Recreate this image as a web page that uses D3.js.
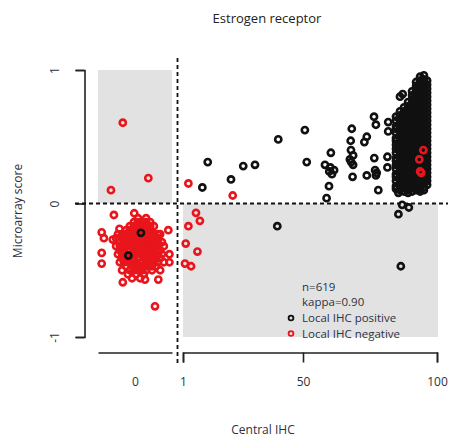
<!DOCTYPE html>
<html>
<head>
<meta charset="utf-8">
<script src="https://cdn.jsdelivr.net/npm/d3@7"></script>
<style>
  body { margin: 0; background: #fff; }
  text { font-family: "Open Sans", "Noto Sans", sans-serif; }
</style>
</head>
<body>
<svg id="chart" width="450" height="440"></svg>
<script>
// ---- Labels ----
const chartTitle = "Estrogen receptor";
const xTitle = "Central IHC";
const yTitle = "Microarray score";
const xTickValues = [1, 50, 100];
const zeroTickLabel = "0";
const yTickValues = [-1, 0, 1];
const statLines = ["n=619", "kappa=0.90"];
const legendLabels = ["Local IHC positive", "Local IHC negative"];

// ---- Data: [central IHC %, microarray score] ----
// Local IHC positive, scattered cases
const posScatter = [
  [8.9,0.12],[11.1,0.31],[20.6,0.18],[25.6,0.28],[30.4,0.29],[39.9,0.48],[39.5,-0.17],
  [50.7,0.55],[51.4,0.31],[58.2,0.29],[60.4,0.38],[59.8,0.24],[60.8,0.22],[61.6,0.25],
  [60.2,0.27],[59.7,0.13],[58.8,0.04],
  [68.2,0.56],[67.8,0.47],[67.9,0.40],[68.7,0.36],[67.5,0.33],[68.7,0.29],[68.0,0.31],[68.5,0.20],
  [72.9,0.46],[73.8,0.50],[73.8,0.21],
  [76.5,0.65],[77.2,0.59],[76.6,0.34],[76.9,0.25],[77.5,0.23],[77.2,0.21],[78.1,0.10],
  [81.8,0.61],[81.8,0.54],[81.5,0.35],[81.5,0.27],
  [85.6,0.08],[86.2,0.80],[87.2,0.82],[85.6,-0.08],[87.0,-0.01],[89.5,-0.03],[86.5,-0.47]
];
// Local IHC positive, high central IHC (dense band)
const denseCentral = [84.7, 86.2, 87.7, 89.2, 90.7, 92.2, 93.7, 95.1, 96.3];
const denseScores = [
  [0.65,0.62,0.58,0.56,0.53,0.49,0.47,0.44,0.41,0.38,0.34,0.32,0.29,0.26,0.22,0.20,0.17,0.13,0.11],
  [0.69,0.66,0.63,0.60,0.57,0.54,0.51,0.48,0.45,0.42,0.39,0.36,0.33,0.30,0.27,0.24,0.21,0.18,0.15,0.12,0.10],
  [0.72,0.69,0.66,0.63,0.60,0.57,0.54,0.51,0.48,0.45,0.42,0.39,0.36,0.33,0.30,0.27,0.24,0.21,0.18,0.15,0.12,0.09],
  [0.76,0.73,0.70,0.67,0.64,0.61,0.58,0.55,0.52,0.49,0.46,0.43,0.40,0.37,0.34,0.31,0.28,0.25,0.22,0.19,0.16,0.13,0.10,0.08],
  [0.84,0.81,0.78,0.75,0.72,0.69,0.66,0.63,0.60,0.57,0.54,0.51,0.48,0.45,0.42,0.39,0.36,0.33,0.30,0.27,0.24,0.21,0.18,0.15,0.12,0.09],
  [0.91,0.88,0.85,0.82,0.79,0.76,0.73,0.70,0.67,0.64,0.61,0.58,0.55,0.52,0.49,0.46,0.43,0.40,0.37,0.34,0.31,0.28,0.25,0.22,0.19,0.16,0.13,0.10],
  [0.95,0.92,0.89,0.86,0.83,0.80,0.77,0.74,0.71,0.68,0.65,0.62,0.59,0.56,0.53,0.50,0.47,0.44,0.41,0.38,0.35,0.32,0.29,0.26,0.23,0.20,0.17,0.14,0.11,0.09],
  [0.96,0.93,0.90,0.87,0.84,0.81,0.78,0.75,0.72,0.69,0.66,0.63,0.60,0.57,0.54,0.51,0.48,0.45,0.42,0.39,0.36,0.33,0.30,0.27,0.24,0.21,0.18,0.15,0.12,0.10],
  [0.92,0.89,0.86,0.83,0.80,0.77,0.74,0.71,0.68,0.65,0.62,0.59,0.56,0.53,0.50,0.47,0.44,0.41,0.38,0.35,0.32,0.29,0.26,0.23,0.20,0.17,0.14]
];
// Local IHC negative with central IHC >= 1
const negScatter = [
  [3.2,0.15],[21.3,0.06],[6.3,-0.07],[3.2,-0.17],[7.9,-0.13],[2.1,-0.30],[6.9,-0.36],
  [1.8,-0.45],[4.3,-0.47],[94.9,0.40],[93.4,0.33],[93.7,0.24],[94.1,0.23]
];

// Central IHC = 0: [horizontal jitter, microarray score]
const zeroNeg = [
  [-0.33,0.605],[0.36,0.19],[-0.65,0.10],[-0.57,-0.086],[-0.02,-0.073],[-0.90,-0.216],
  [-0.42,-0.19],[-0.84,-0.26],[-0.60,-0.27],[0.90,-0.20],[-0.90,-0.37],[-0.90,-0.45],
  [0.93,-0.38],[0.93,-0.44],[-0.33,-0.59],[0.27,-0.57],[0.63,-0.57],[0.54,-0.77],
  [0.08,-0.11],[0.30,-0.11],
  [-0.03,-0.14],[0.19,-0.14],[0.41,-0.14],
  [-0.14,-0.17],[0.08,-0.17],[0.30,-0.17],[0.51,-0.17],
  [-0.24,-0.20],[-0.03,-0.20],[0.19,-0.20],[0.41,-0.20],
  [-0.46,-0.23],[-0.35,-0.23],[-0.14,-0.23],[0.08,-0.23],[0.30,-0.23],[0.51,-0.23],[0.68,-0.23],
  [-0.51,-0.26],[-0.24,-0.26],[-0.03,-0.26],[0.19,-0.26],[0.41,-0.26],[0.62,-0.26],
  [-0.41,-0.29],[-0.14,-0.29],[0.08,-0.29],[0.30,-0.29],[0.51,-0.29],[0.73,-0.29],
  [-0.51,-0.32],[-0.30,-0.32],[-0.03,-0.32],[0.19,-0.32],[0.41,-0.32],[0.62,-0.32],[0.78,-0.32],
  [-0.41,-0.35],[-0.19,-0.35],[0.08,-0.35],[0.30,-0.35],[0.51,-0.35],[0.68,-0.35],
  [-0.46,-0.38],[-0.24,-0.38],[-0.08,-0.38],[0.14,-0.38],[0.35,-0.38],[0.57,-0.38],[0.73,-0.38],
  [-0.35,-0.41],[-0.14,-0.41],[0.08,-0.41],[0.24,-0.41],[0.46,-0.41],[0.68,-0.41],
  [-0.41,-0.44],[-0.19,-0.44],[0.03,-0.44],[0.19,-0.44],[0.41,-0.44],[0.62,-0.44],[0.78,-0.44],
  [-0.24,-0.47],[-0.08,-0.47],[0.14,-0.47],[0.35,-0.47],[0.57,-0.47],
  [-0.35,-0.50],[-0.14,-0.50],[0.08,-0.50],[0.30,-0.50],[0.46,-0.50],[0.68,-0.50],
  [-0.19,-0.53],[0.03,-0.53],[0.24,-0.53],
  [-0.08,-0.56],[0.14,-0.56],
  // core of the cluster
  [0.08,-0.14],[0.30,-0.14],
  [-0.03,-0.17],[0.19,-0.17],[0.41,-0.17],
  [-0.14,-0.20],[0.08,-0.20],[0.30,-0.20],
  [-0.24,-0.23],[-0.03,-0.23],[0.19,-0.23],[0.41,-0.23],[0.62,-0.23],
  [-0.35,-0.26],[-0.14,-0.26],[0.08,-0.26],[0.30,-0.26],[0.51,-0.26],
  [-0.30,-0.29],[-0.03,-0.29],[0.19,-0.29],[0.41,-0.29],[0.62,-0.29],
  [-0.41,-0.32],[-0.14,-0.32],[0.08,-0.32],[0.30,-0.32],[0.51,-0.32],
  [-0.30,-0.35],[-0.03,-0.35],[0.19,-0.35],[0.41,-0.35],[0.60,-0.35],
  [-0.35,-0.38],[0.03,-0.38],[0.24,-0.38],[0.46,-0.38],
  [-0.24,-0.41],[-0.03,-0.41],[0.35,-0.41],[0.57,-0.41],
  [-0.30,-0.44],[-0.08,-0.44],[0.30,-0.44],[0.51,-0.44],
  [0.03,-0.47],[0.24,-0.47],[0.46,-0.47],
  [-0.03,-0.50],[0.19,-0.50]
];
const zeroPos = [[0.16,-0.22],[-0.18,-0.39]];

// ---- Colours ----
const posColor = "#111111";
const negColor = "#e8161c";
const shadeColor = "#e2e2e2";
const inkColor = "#2e3142";

// ---- Scales ----
const x = d3.scaleLinear().domain([1, 50, 100]).range([183, 303, 437]);
const xZero = d3.scaleLinear().domain([-1, 1]).range([98, 172]);
const y = d3.scaleLinear().domain([-1, 1]).range([337, 70]);

const svg = d3.select("#chart");

// Discordant quadrants
svg.append("rect")
  .attr("x", xZero(-1)).attr("y", y(1))
  .attr("width", xZero(1) - xZero(-1)).attr("height", y(0) - y(1))
  .attr("fill", shadeColor);
svg.append("rect")
  .attr("x", x(1)).attr("y", y(0))
  .attr("width", x(100) - x(1) + 1).attr("height", y(-1) - y(0))
  .attr("fill", shadeColor);

// Y axis (bracket style with rotated labels)
const yAxis = svg.append("g")
  .attr("transform", "translate(84.5,0)")
  .call(d3.axisLeft(y).tickValues(yTickValues).tickSize(9).tickSizeOuter(9).tickFormat(d => String(d)));
yAxis.selectAll("text")
  .attr("transform", "rotate(-90)")
  .attr("x", 0).attr("y", -29.5).attr("dy", "0.35em")
  .attr("text-anchor", "middle");

// X axis for central IHC >= 1
const xAxis = svg.append("g")
  .attr("transform", "translate(0,352.5)")
  .call(d3.axisBottom(x).tickValues(xTickValues).tickSize(10).tickSizeOuter(10).tickPadding(15));

// X axis segment for central IHC = 0
const xAxisZero = svg.append("g")
  .attr("transform", "translate(0,352.5)")
  .call(d3.axisBottom(xZero).tickValues([0]).tickSize(0).tickSizeOuter(0)
    .tickPadding(25).tickFormat(() => zeroTickLabel));

[yAxis, xAxis, xAxisZero].forEach(g => {
  g.select(".domain").attr("stroke", "#222").attr("stroke-width", 1.6);
  g.selectAll(".tick line").attr("stroke", "#222").attr("stroke-width", 1.6);
  g.selectAll("text").attr("font-size", 12).attr("fill", inkColor)
    .attr("font-family", "'Open Sans', sans-serif");
});

// Cut-off lines
svg.append("line")
  .attr("x1", 75).attr("x2", 448).attr("y1", y(0)).attr("y2", y(0))
  .attr("stroke", "#111").attr("stroke-width", 1.8).attr("stroke-dasharray", "4,3");
svg.append("line")
  .attr("x1", 177.5).attr("x2", 177.5).attr("y1", 58).attr("y2", 366)
  .attr("stroke", "#111").attr("stroke-width", 1.8).attr("stroke-dasharray", "4,3");

// Points
const pts = svg.append("g").attr("fill", "none").attr("stroke-width", 2.6);
function drawPoints(data, fx, color) {
  pts.append("g").attr("stroke", color)
    .selectAll("circle").data(data).join("circle")
    .attr("cx", d => fx(d[0])).attr("cy", d => y(d[1])).attr("r", 3.1);
}
const densePoints = denseCentral.flatMap((c, i) => denseScores[i].map(s => [c, s]));
drawPoints(densePoints, x, posColor);
drawPoints(posScatter, x, posColor);
drawPoints(zeroNeg, xZero, negColor);
drawPoints(negScatter, x, negColor);
drawPoints(zeroPos, xZero, posColor);

// Statistics and legend
const leg = svg.append("g").attr("font-size", 11.5).attr("fill", inkColor);
statLines.forEach((t, i) => {
  leg.append("text").attr("x", 302).attr("y", 287 + i * 14.5).attr("dy", "0.35em").text(t);
});
legendLabels.forEach((t, i) => {
  const yy = 318 + i * 15.5;
  leg.append("circle").attr("cx", 291).attr("cy", yy).attr("r", 2.4)
    .attr("fill", "none").attr("stroke", i === 0 ? posColor : negColor).attr("stroke-width", 1.8);
  leg.append("text").attr("x", 302).attr("y", yy).attr("dy", "0.35em").text(t);
});

// Titles
svg.append("text").attr("x", 267).attr("y", 18).attr("dy", "0.35em")
  .attr("text-anchor", "middle").attr("font-size", 13).attr("fill", "#222").text(chartTitle);
svg.append("text").attr("x", 263).attr("y", 430).attr("dy", "0.35em")
  .attr("text-anchor", "middle").attr("font-size", 12).attr("fill", inkColor).text(xTitle);
svg.append("text").attr("transform", "translate(18,211) rotate(-90)").attr("dy", "0.35em")
  .attr("text-anchor", "middle").attr("font-size", 12).attr("fill", inkColor).text(yTitle);
</script>
</body>
</html>
